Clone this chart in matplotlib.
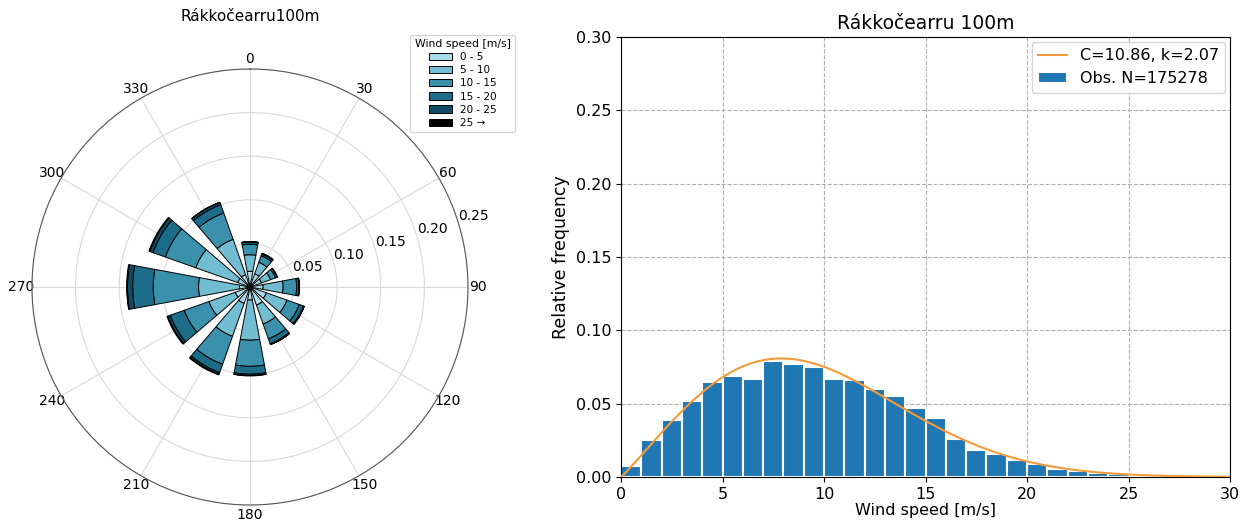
import numpy as np
import matplotlib
matplotlib.use('Agg')
import matplotlib.pyplot as plt

# wind rose data: 12 sectors, frequency per speed bin
directions = [0, 30, 60, 90, 120, 150, 180, 210, 240, 270, 300, 330]
speed_labels = ['0 - 5', '5 - 10', '10 - 15', '15 - 20', '20 - 25', '25 \u2192']
freq_0_5 = [0.018, 0.016, 0.014, 0.015, 0.020, 0.022, 0.015, 0.020, 0.018, 0.012, 0.015, 0.015]
freq_5_10 = [0.019, 0.014, 0.011, 0.023, 0.025, 0.023, 0.046, 0.040, 0.032, 0.047, 0.051, 0.043]
freq_10_15 = [0.012, 0.008, 0.006, 0.0155, 0.015, 0.018, 0.030, 0.034, 0.030, 0.052, 0.037, 0.032]
freq_15_20 = [0.0025, 0.002, 0.002, 0.0025, 0.005, 0.006, 0.009, 0.010, 0.017, 0.0235, 0.015, 0.010]
freq_20_25 = [0.0005, 0.001, 0.0003, 0.0006, 0.001, 0.001, 0.0015, 0.002, 0.003, 0.006, 0.004, 0.003]
freq_25_up = [0.0, 0.0, 0.0, 0.0, 0.0, 0.0, 0.0005, 0.001, 0.001, 0.001, 0.001, 0.0]
rose_colors = ['#a9dcea', '#72bdd2', '#3b90ab', '#1d6d8a', '#0e4a62', '#000000']

# histogram data: 1 m/s bins from 0 to 30
bin_left = list(range(0, 30))
rel_freq = [0.0075, 0.025, 0.039, 0.052, 0.065, 0.069, 0.067, 0.079, 0.077, 0.075,
            0.067, 0.066, 0.060, 0.055, 0.047, 0.040, 0.026, 0.0184, 0.016, 0.0116,
            0.0089, 0.0055, 0.0043, 0.003, 0.002, 0.0014, 0.0008, 0.0004, 0.0002, 0.0001]
weib_C = 10.86
weib_k = 2.07
n_obs = 175278

fig = plt.figure(figsize=(12.44, 5.23), dpi=100)

# ---- wind rose ----
ax1 = fig.add_axes([0.0257, 0.0344, 0.3505, 0.8337], projection='polar')
ax1.set_theta_zero_location('N')
ax1.set_theta_direction(-1)
theta = np.radians(directions)
width = np.radians(30) * 0.7
bottom = np.zeros(len(directions))
all_bins = [freq_0_5, freq_5_10, freq_10_15, freq_15_20, freq_20_25, freq_25_up]
for vals, col, lab in zip(all_bins, rose_colors, speed_labels):
    ax1.bar(theta, vals, width=width, bottom=bottom, color=col, edgecolor='black',
            linewidth=0.7, label=lab, zorder=3)
    bottom = bottom + np.array(vals)
ax1.set_ylim(0, 0.25)
ax1.set_rgrids([0.05, 0.10, 0.15, 0.20, 0.25], labels=['0.05', '0.10', '0.15', '0.20', '0.25'],
               angle=73, fontsize=10)
ax1.set_thetagrids(np.arange(0, 360, 30), labels=[str(a) for a in range(0, 360, 30)], fontsize=10)
ax1.tick_params(axis='x', pad=-3)
ax1.grid(color='#d9d9d9', linewidth=0.8)
ax1.spines['polar'].set_color('#555555')
ax1.spines['polar'].set_linewidth(0.8)
ax1.set_title('Rákkočearru100m', fontsize=11, y=1.09)
leg1 = ax1.legend(title='Wind speed [m/s]', fontsize=7.5, title_fontsize=7.8,
                  loc='upper left', bbox_to_anchor=(0.856, 1.09), handlelength=2.2,
                  labelspacing=0.3)

# ---- histogram ----
ax2 = fig.add_axes([0.4992, 0.088, 0.4896, 0.8413])
ax2.bar(bin_left, rel_freq, width=1.0, align='edge', color='#1f77b4', edgecolor='white',
        linewidth=1.5, label='Obs. N=%d' % n_obs, zorder=2)
x = np.linspace(0, 30, 300)
pdf = (weib_k / weib_C) * (x / weib_C) ** (weib_k - 1) * np.exp(-(x / weib_C) ** weib_k)
ax2.plot(x, pdf, color='#f39a3c', linewidth=1.5, label='C=%.2f, k=%.2f' % (weib_C, weib_k), zorder=3)
ax2.set_xlim(0, 30)
ax2.set_ylim(0, 0.30)
ax2.set_xticks(range(0, 31, 5))
ax2.set_yticks(np.arange(0, 0.31, 0.05))
ax2.set_yticklabels(['%.2f' % v for v in np.arange(0, 0.31, 0.05)])
ax2.tick_params(labelsize=11.5)
ax2.grid(True, linestyle='--', color='#b0b0b0', linewidth=0.8, zorder=0)
ax2.set_axisbelow(True)
ax2.set_xlabel('Wind speed [m/s]', fontsize=11.5, labelpad=1)
ax2.set_ylabel('Relative frequency', fontsize=12.5)
ax2.set_title('Rákkočearru 100m', fontsize=13.5, pad=6)
ax2.legend(loc='upper right', fontsize=11.5, handlelength=1.8, borderaxespad=0.3)

plt.savefig('out.png', dpi=100)
